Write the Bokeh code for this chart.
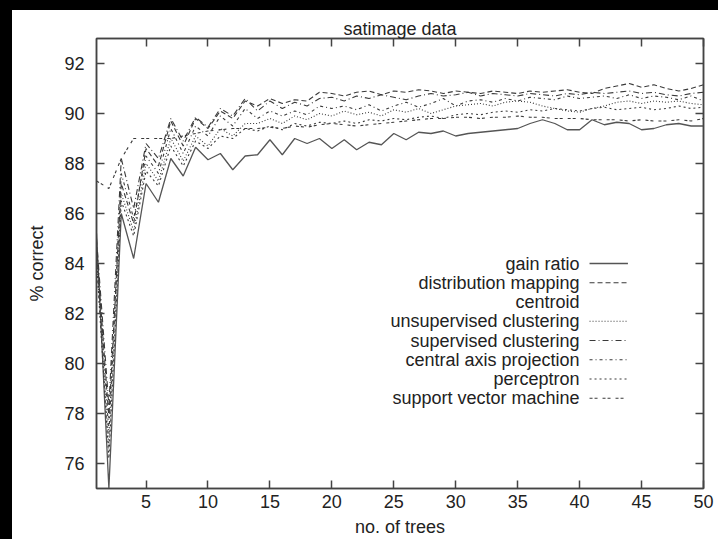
from bokeh.plotting import figure
from bokeh.models import LinearAxis, FixedTicker, Range1d, Spacer
from bokeh.layouts import column, row
from bokeh.embed import file_html
from bokeh.resources import INLINE
from bokeh.core.properties import value

# ---------------- data ----------------
trees = list(range(1, 51))

gain_ratio = [85.2, 75.0, 86.0, 84.2, 87.2, 86.45, 88.2, 87.5, 88.65, 88.15,
              88.4, 87.75, 88.3, 88.35, 88.95, 88.35, 89.0, 88.8, 89.0, 88.6,
              88.95, 88.55, 88.85, 88.75, 89.2, 88.95, 89.25, 89.2, 89.3, 89.1,
              89.2, 89.25, 89.3, 89.35, 89.4, 89.6, 89.75, 89.6, 89.35, 89.35,
              89.75, 89.55, 89.65, 89.6, 89.35, 89.4, 89.55, 89.6, 89.5, 89.5]

distribution_mapping = [84.6, 77.8, 87.2, 85.6, 88.6, 87.9, 89.7, 88.7, 89.8, 89.4,
                        90.1, 89.8, 90.5, 90.3, 90.6, 90.4, 90.55, 90.5, 90.85, 90.8,
                        90.7, 90.85, 90.9, 90.75, 90.9, 90.85, 90.95, 90.9, 90.8, 90.9,
                        90.85, 90.8, 90.9, 90.85, 90.8, 90.9, 90.85, 90.9, 90.95, 90.85,
                        90.8, 91.0, 91.1, 91.2, 91.05, 91.15, 91.0, 90.9, 91.0, 91.15]

unsupervised_clustering = [84.3, 76.6, 86.8, 85.3, 88.0, 87.3, 89.0, 88.1, 89.1, 88.7,
                           89.4, 89.1, 89.6, 89.6, 89.8, 89.6, 89.9, 89.75, 90.0, 89.9,
                           90.1, 89.95, 90.05, 89.9, 90.15, 90.05, 90.2, 90.0, 90.15, 90.3,
                           90.35, 90.4, 90.3, 90.45, 90.5, 90.45, 90.3, 90.2, 90.1, 90.05,
                           90.2, 90.3, 90.45, 90.5, 90.4, 90.5, 90.45, 90.5, 90.4, 90.35]

supervised_clustering = [85.0, 78.3, 88.2, 86.2, 88.8, 88.2, 89.8, 88.9, 89.85, 89.45,
                         90.2, 89.9, 90.6, 90.1, 90.5, 90.2, 90.45, 90.3, 90.6, 90.65,
                         90.5, 90.7, 90.6, 90.75, 90.65, 90.55, 90.7, 90.8, 90.7, 90.75,
                         90.85, 90.7, 90.8, 90.75, 90.7, 90.8, 90.75, 90.7, 90.8, 90.75,
                         90.85, 90.8, 90.85, 90.9, 90.8, 90.85, 90.75, 90.7, 90.8, 90.85]

central_axis_projection = [84.8, 77.2, 87.6, 85.8, 88.3, 87.6, 89.4, 88.4, 89.5, 89.1,
                           89.9, 89.5, 90.2, 89.8, 90.1, 89.9, 90.1, 89.95, 90.3, 90.2,
                           90.3, 90.15, 90.35, 90.1, 90.3, 90.45, 90.25, 90.4, 90.6, 90.3,
                           90.5, 90.55, 90.45, 90.6, 90.5, 90.65, 90.6, 90.55, 90.7, 90.6,
                           90.65, 90.7, 90.6, 90.75, 90.6, 90.7, 90.65, 90.55, 90.7, 90.5]

perceptron = [84.1, 76.2, 86.5, 85.1, 87.7, 87.1, 88.7, 87.9, 88.9, 88.6,
              89.1, 89.0, 89.4, 89.3, 89.5, 89.35, 89.6, 89.5, 89.65, 89.6,
              89.7, 89.6, 89.75, 89.7, 89.8, 89.75, 89.85, 89.9, 89.8, 89.95,
              90.0, 89.95, 90.05, 90.1, 90.05, 90.15, 90.1, 90.2, 90.15, 90.1,
              90.2, 90.25, 90.15, 90.2, 90.25, 90.15, 90.2, 90.3, 90.2, 90.25]

support_vector_machine = [87.3, 87.0, 88.2, 89.0, 89.0, 89.0, 89.0, 89.1, 89.2, 89.3,
                          89.35, 89.4, 89.4, 89.4, 89.45, 89.4, 89.5, 89.45, 89.55, 89.6,
                          89.55, 89.5, 89.55, 89.6, 89.65, 89.7, 89.75, 89.8, 89.8, 89.85,
                          89.85, 89.8, 89.85, 89.85, 89.9, 89.85, 89.85, 89.8, 89.8, 89.8,
                          89.75, 89.75, 89.75, 89.7, 89.75, 89.7, 89.7, 89.75, 89.7, 89.8]

series_names = ["gain ratio", "distribution mapping", "centroid",
                "unsupervised clustering", "supervised clustering",
                "central axis projection", "perceptron", "support vector machine"]

x_ticks = [5, 10, 15, 20, 25, 30, 35, 40, 45, 50]
y_ticks = [76, 78, 80, 82, 84, 86, 88, 90, 92]

# ---------------- styles ----------------
FONT = "Liberation Sans"
FS = "18px"
LINE_COL = "#3a3a3a"
FRAME_COL = "#444444"
TEXT_COL = "#222222"

styles = {
    "gain ratio": dict(line_dash="solid", line_color="#555555", line_width=1.3),
    "distribution mapping": dict(line_dash="5 3", line_color=LINE_COL, line_width=1.1),
    "centroid": None,
    "unsupervised clustering": dict(line_dash="1 2", line_color=LINE_COL, line_width=1.1),
    "supervised clustering": dict(line_dash="6 3 1 3", line_color=LINE_COL, line_width=1.1),
    "central axis projection": dict(line_dash="3 3 1 3", line_color=LINE_COL, line_width=1.1),
    "perceptron": dict(line_dash="2 3", line_color=LINE_COL, line_width=1.1),
    "support vector machine": dict(line_dash="3 2 3 5", line_color=LINE_COL, line_width=1.1),
}

data = {
    "gain ratio": gain_ratio,
    "distribution mapping": distribution_mapping,
    "unsupervised clustering": unsupervised_clustering,
    "supervised clustering": supervised_clustering,
    "central axis projection": central_axis_projection,
    "perceptron": perceptron,
    "support vector machine": support_vector_machine,
}

p = figure(width=706, height=529, output_backend="svg", toolbar_location=None,
           x_range=Range1d(1, 50), y_range=Range1d(75, 93),
           min_border_left=84, min_border_right=15, min_border_top=28,
           min_border_bottom=51, x_axis_label="no. of trees",
           y_axis_label="% correct")
p.background_fill_color = "white"
p.border_fill_color = "white"
p.outline_line_color = FRAME_COL
p.outline_line_width = 1.5
p.xgrid.visible = False
p.ygrid.visible = False

# bottom / left axes
for ax, ticks in ((p.xaxis[0], x_ticks), (p.yaxis[0], y_ticks)):
    ax.ticker = FixedTicker(ticks=ticks)
    ax.major_tick_in = 8
    ax.major_tick_out = 0
    ax.minor_tick_line_color = None
    ax.axis_line_color = FRAME_COL
    ax.axis_line_width = 1.5
    ax.major_tick_line_color = FRAME_COL
    ax.major_tick_line_width = 1.5
    ax.major_label_text_font = FONT
    ax.major_label_text_font_size = FS
    ax.major_label_text_color = TEXT_COL
    ax.axis_label_text_font = FONT
    ax.axis_label_text_font_size = FS
    ax.axis_label_text_font_style = "normal"
    ax.axis_label_text_color = TEXT_COL

p.xaxis[0].major_label_standoff = 6
p.xaxis[0].axis_label_standoff = 6
p.yaxis[0].major_label_standoff = 12
p.yaxis[0].axis_label_standoff = 14

# mirrored axes (top carries the title); their tick labels are not drawn
top = LinearAxis(ticker=FixedTicker(ticks=x_ticks), axis_label="satimage data")
right = LinearAxis(ticker=FixedTicker(ticks=y_ticks))
for ax in (top, right):
    ax.major_tick_in = 8
    ax.major_tick_out = 0
    ax.minor_tick_line_color = None
    ax.axis_line_color = FRAME_COL
    ax.axis_line_width = 1.5
    ax.major_tick_line_color = FRAME_COL
    ax.major_tick_line_width = 1.5
    ax.major_label_text_color = None
    ax.major_label_text_font_size = "2px"
    ax.major_label_standoff = 0
    ax.axis_label_text_font = FONT
    ax.axis_label_text_font_size = FS
    ax.axis_label_text_font_style = "normal"
    ax.axis_label_text_color = TEXT_COL
top.axis_label_standoff = 0
p.add_layout(top, "above")
p.add_layout(right, "right")

# data lines
for name in series_names:
    st = styles[name]
    if st is None or name not in data:
        continue
    p.line(trees, data[name], **st)

# legend drawn in gnuplot style: text right-aligned, sample line to the right
LEG_X_TEXT = 40.0
LEG_X0 = 40.8
LEG_X1 = 43.9
LEG_Y0 = 84.0
LEG_DY = 0.77
leg_y = [LEG_Y0 - i * LEG_DY for i in range(len(series_names))]
p.text(x=[LEG_X_TEXT] * len(series_names), y=leg_y, text=series_names,
       text_align="right", text_baseline="middle",
       text_font=value(FONT), text_font_size=FS, text_color=TEXT_COL)
for name, yy in zip(series_names, leg_y):
    st = styles[name]
    if st is None:
        continue
    p.line([LEG_X0, LEG_X1], [yy, yy], **st)

# black left and top edges of the reference picture
top_band = Spacer(width=718, height=10, styles={"background-color": "black"})
left_band = Spacer(width=12, height=529, styles={"background-color": "black"})
page = column(top_band, row(left_band, p, spacing=0), spacing=0)

html = file_html(page, INLINE)
html = html.replace("</head>", "<style>html,body{margin:0;padding:0;background:#fff;}</style></head>", 1)
open("out.html", "w").write(html)
